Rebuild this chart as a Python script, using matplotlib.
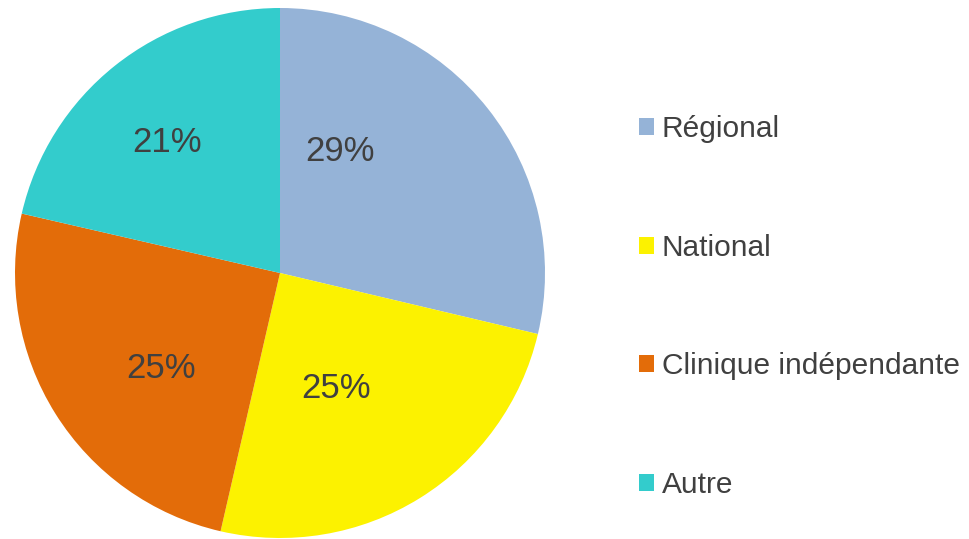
import matplotlib
matplotlib.use("Agg")
import matplotlib.pyplot as plt

categories = ["Régional", "National", "Clinique indépendante", "Autre"]
values = [28.7, 24.9, 25.0, 21.4]
colors = ["#95B3D7", "#FCF200", "#E36C09", "#33CCCC"]

# label placement (fraction of radius), as Excel "best fit" put them
label_pos = [(0.226, 0.457), (0.211, -0.434), (-0.449, -0.362), (-0.426, 0.491)]

plt.rcParams['font.family'] = ['Liberation Sans', 'DejaVu Sans']

fig = plt.figure(figsize=(9.69, 5.39), dpi=100)
W, H = 969, 539
cx, cy, r = 280, 273, 265
ax = fig.add_axes([(cx - r) / W, (H - cy - r) / H, 2 * r / W, 2 * r / H])

wedges, texts, autotexts = ax.pie(
    values, colors=colors, startangle=90, counterclock=False,
    autopct='%.0f%%', pctdistance=0.55,
    textprops=dict(fontsize=25, color="#404040"),
    wedgeprops=dict(linewidth=0),
)
for t, p in zip(autotexts, label_pos):
    t.set_position(p)
    t.set_ha('center')
    t.set_va('center')
ax.set_xlim(-1, 1)
ax.set_ylim(-1, 1)
ax.set_aspect('auto')
ax.axis('off')

leg = fig.legend(
    wedges, categories, loc='center left',
    bbox_to_anchor=(639 / W, (H - 307) / H),
    frameon=False, fontsize=21.5, labelcolor="#404040",
    handlelength=0.5, handleheight=0.5, handletextpad=0.27,
    labelspacing=3.04, borderpad=0, borderaxespad=0,
)

fig.savefig("out.png", dpi=100)
